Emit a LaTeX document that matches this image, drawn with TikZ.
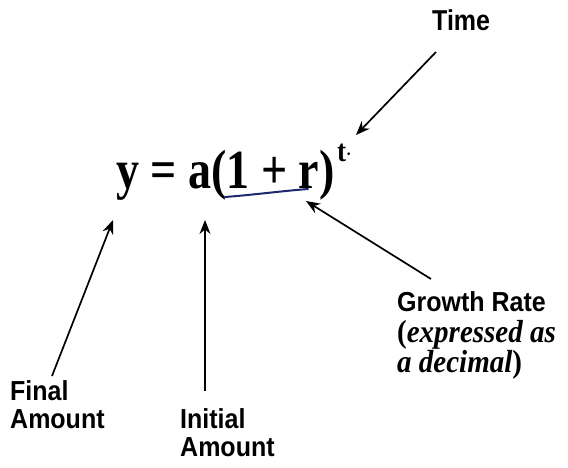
\documentclass[tikz,border=0pt]{standalone}
\usepackage{fontspec}
\setmainfont{Liberation Serif}
\setsansfont{Liberation Sans}
\usetikzlibrary{arrows.meta}

\definecolor{inkblue}{RGB}{30,40,110}

\newcommand{\tall}[2]{\scalebox{1}[#1]{#2}}

\tikzset{
    label/.style={font=\sffamily\bfseries\fontsize{25}{25}\selectfont, inner sep=0pt, anchor=base west},
    note/.style={font=\bfseries\fontsize{29}{29}\selectfont, inner sep=0pt, anchor=base west},
    pointer/.style={-{Stealth[length=14pt,width=11pt]}, line width=1.7pt}
}

\begin{document}
\begin{tikzpicture}[x=1pt,y=-1pt]
    \useasboundingbox (0,0) rectangle (568,468);

    % the formula
    \node[font=\bfseries\fontsize{46}{46}\selectfont, inner sep=0pt, anchor=base west]
        (formula) at (116,189) {\tall{1.2}{y = a(1 + r)}};
    \node[font=\bfseries\fontsize{27}{27}\selectfont, inner sep=0pt, anchor=base west]
        (power) at (337,162) {\tall{1.15}{t}\raisebox{2pt}{\fontsize{16}{16}\selectfont·}};
    \draw[inkblue, line width=2pt, line cap=round]
        (225,197) .. controls (252,195) and (282,191) .. (308,189);

    % labels
    \node[label] (time) at (432,31) {\tall{1.15}{Time}};
    \node[label] (growth) at (397,311) {\tall{1.1}{Growth Rate}};
    \node[note] (expr) at (397,342) {\tall{1.1}{(\textit{expressed as}}};
    \node[note] (deci) at (397,372) {\tall{1.1}{\textit{a decimal})}};
    \node[label] (final) at (10,400) {\tall{1.1}{Final}};
    \node[label] (finalb) at (10,428) {\tall{1.1}{Amount}};
    \node[label] (initial) at (180,428) {\tall{1.1}{Initial}};
    \node[label] (initialb) at (180,456) {\tall{1.1}{Amount}};

    % tips and tails
    \coordinate (timetail) at (436,52);
    \coordinate (timetip) at (356,135);
    \coordinate (ratetail) at (431,279);
    \coordinate (ratetip) at (306,201);
    \coordinate (finaltail) at (52,376);
    \coordinate (finaltip) at (113,220);
    \coordinate (inittail) at (205,391);
    \coordinate (inittip) at (205,220);

    \draw[pointer] (timetail) -- (timetip);
    \draw[pointer] (ratetail) -- (ratetip);
    \draw[pointer] (finaltail) -- (finaltip);
    \draw[pointer] (inittail) -- (inittip);
\end{tikzpicture}
\end{document}
